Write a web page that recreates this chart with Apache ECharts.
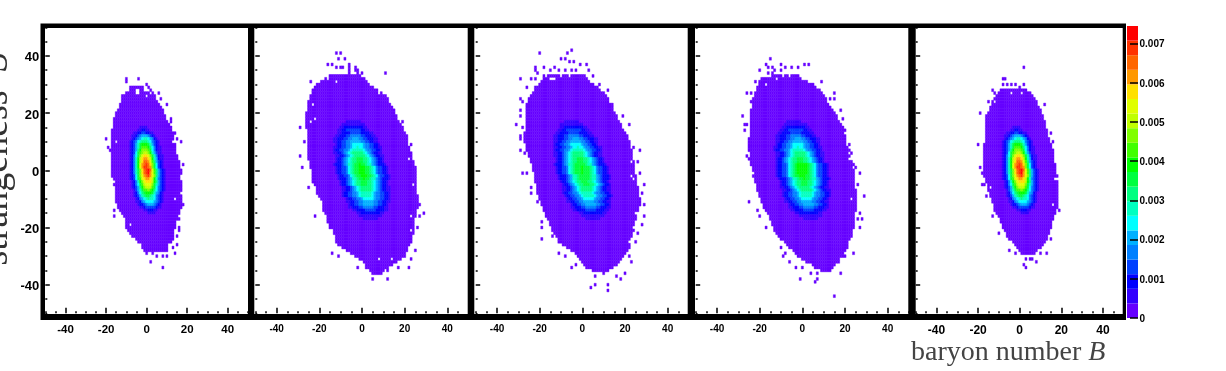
<!DOCTYPE html>
<html><head><meta charset="utf-8"><title>Strangeness vs baryon number</title>
<style>html,body{margin:0;padding:0;background:#fff}#c{width:1226px;height:371px}</style>
<script src="https://cdn.jsdelivr.net/npm/echarts@6/dist/echarts.min.js"></script></head>
<body><div id="c"></div>
<script>
// Levels are colour-band numbers (base 36), band 1 = lowest.
const xTickLabels = [-40,-20,0,20,40];
const yTickLabels = [-40,-20,0,20,40];
const barTickLabels = [0,0.001,0.002,0.003,0.004,0.005,0.006,0.007];
const barMax = 0.00745;
const bandColors = ['#6600ff','#3300ff','#0000ff','#0040ff','#0080ff','#00b0ff','#00ffff','#00ffc0','#00ff80','#00ff40','#00ff00','#40ff00','#80ff00','#c0ff00','#e0ff00','#ffe000','#ff9900','#ff6600','#ff3300','#ff0000'];

// outer silhouette of each panel: [left, right] per S row, from the top row downward
const p1Top = 29;
const p1Edges = [[-8,-2],[-8,-2],[-10,1],[-12,3],[-12,4],[-12,5],[-13,6],[-13,7],[-14,8],[-15,8],[-15,9],[-16,9],[-16,10],[-16,11],[-16,12],[-17,12],[-17,13],[-17,13],[-17,13],[-17,13],[-17,13],[-17,14],[-17,14],[-17,14],[-17,15],[-17,15],[-17,16],[-17,16],[-17,16],[-17,17],[-17,17],[-17,16],[-16,16],[-15,17],[-15,17],[-15,17],[-15,16],[-15,16],[-15,17],[-15,17],[-15,17],[-14,18],[-14,17],[-13,16],[-12,16],[-11,15],[-10,15],[-10,14],[-10,14],[-10,14],[-9,13],[-8,13],[-7,13],[-5,13],[-4,12],[-2,10],[-1,10],[-1,10]];
const p2Top = 33;
const p2Edges = [[-15,-1],[-17,1],[-19,2],[-21,3],[-22,5],[-22,7],[-23,9],[-24,11],[-24,12],[-25,12],[-25,13],[-25,14],[-25,15],[-26,15],[-26,16],[-26,16],[-26,17],[-26,18],[-26,19],[-25,19],[-25,20],[-25,21],[-25,21],[-25,21],[-25,21],[-25,22],[-25,22],[-25,23],[-25,23],[-25,23],[-24,24],[-24,24],[-24,25],[-23,25],[-23,25],[-23,25],[-23,25],[-23,25],[-22,25],[-21,25],[-21,25],[-21,25],[-20,26],[-19,26],[-18,26],[-18,27],[-18,26],[-18,25],[-17,25],[-16,25],[-16,24],[-16,24],[-15,24],[-14,24],[-13,24],[-13,24],[-12,23],[-12,23],[-12,23],[-11,22],[-9,21],[-7,21],[-5,20],[-3,20],[-1,18],[1,16],[2,14],[2,12],[4,10],[5,8]];
const p3Top = 33;
const p3Edges = [[-18,1],[-18,2],[-19,3],[-20,5],[-22,7],[-22,8],[-23,9],[-24,11],[-24,12],[-25,12],[-26,13],[-26,14],[-26,14],[-26,15],[-26,16],[-26,16],[-26,17],[-26,18],[-26,18],[-26,19],[-27,20],[-27,21],[-27,21],[-27,22],[-26,22],[-26,22],[-26,23],[-25,23],[-25,23],[-24,23],[-24,24],[-23,24],[-23,24],[-23,24],[-22,24],[-22,25],[-22,25],[-22,25],[-21,25],[-21,26],[-21,26],[-21,26],[-20,26],[-20,27],[-19,27],[-19,27],[-18,26],[-18,26],[-17,25],[-17,25],[-16,25],[-15,24],[-15,24],[-14,24],[-14,24],[-13,23],[-12,23],[-11,22],[-11,22],[-9,22],[-7,22],[-5,21],[-3,20],[-2,19],[-1,18],[0,17],[1,16],[2,14],[5,12]];
const p4Top = 33;
const p4Edges = [[-14,-2],[-19,-1],[-20,2],[-20,5],[-21,6],[-21,8],[-22,9],[-22,10],[-23,11],[-23,11],[-23,12],[-23,13],[-24,14],[-24,15],[-24,16],[-24,16],[-24,17],[-24,18],[-24,19],[-24,19],[-24,19],[-24,20],[-25,20],[-25,20],[-25,20],[-25,21],[-25,21],[-24,21],[-24,22],[-24,22],[-24,23],[-24,23],[-23,23],[-23,24],[-23,24],[-23,24],[-22,24],[-22,24],[-21,24],[-21,24],[-21,25],[-20,25],[-20,25],[-19,25],[-19,25],[-18,25],[-18,25],[-17,25],[-16,24],[-15,24],[-15,24],[-14,24],[-14,24],[-13,24],[-13,23],[-12,23],[-11,23],[-10,22],[-8,22],[-7,21],[-6,21],[-4,20],[-3,20],[-2,20],[0,17],[2,17],[5,15],[6,14],[9,13]];
const p5Top = 28;
const p5Edges = [[-9,3],[-10,5],[-11,6],[-12,7],[-13,8],[-13,8],[-14,9],[-14,10],[-15,10],[-16,11],[-16,11],[-16,12],[-16,12],[-16,12],[-16,13],[-16,13],[-16,13],[-16,14],[-16,14],[-17,15],[-17,15],[-17,16],[-17,16],[-17,16],[-17,16],[-17,16],[-17,17],[-17,17],[-17,17],[-17,17],[-17,17],[-16,17],[-16,18],[-15,18],[-15,18],[-15,18],[-14,18],[-14,18],[-13,18],[-13,18],[-12,18],[-12,18],[-11,17],[-11,17],[-10,16],[-9,16],[-9,15],[-8,15],[-8,15],[-7,14],[-6,14],[-5,13],[-5,13],[-3,12],[-2,11],[-1,10],[0,8],[1,7]];

// isolated filled bins [B,S] and empty bins inside the silhouette
const p1Dots = [[-10,32],[-4,32],[-10,31],[0,30],[1,29],[2,28],[3,27],[6,27],[4,26],[7,25],[10,23],[12,18],[12,17],[14,13],[15,11],[17,10],[14,9],[18,2],[17,-7],[18,-12],[17,-13],[16,-17],[16,-20],[16,-21],[15,-23],[15,-26],[13,-27],[14,-29],[10,-30],[8,-30],[8,-34],[5,-30],[3,-29],[2,-32],[0,-29],[-2,-27],[-4,-25],[-20,11],[-19,8],[-18,7],[-16,-5],[-16,-14],[-16,-16],[-14,-7]];
const p1Holes = [[-8,-19],[-5,28],[-4,28],[-5,27],[-4,27],[0,26],[-15,10],[13,10],[14,-10]];
const p2Dots = [[-12,41],[-10,41],[-11,39],[-8,39],[-16,37],[-14,37],[-12,36],[-10,36],[-9,36],[-6,37],[-6,36],[-6,35],[-6,34],[-3,36],[-3,35],[-2,35],[-2,34],[0,34],[11,34],[-24,31],[-23,28],[-29,15],[-27,10],[-29,5],[-28,1],[-25,-6],[-22,-16],[-15,-20],[-14,-29],[-11,-30],[17,17],[19,17],[23,9],[29,-15],[27,-16],[26,-20],[25,-28],[23,-31],[22,-34],[17,-34],[12,-35],[12,-38],[5,-38],[9,-36],[-2,-34],[-1,-31]];
const p2Holes = [[-17,33],[-12,31],[-22,18],[-23,23],[-24,17],[-23,-16],[22,4],[16,25],[8,27],[23,-16],[22,-30],[8,-31],[14,-31],[-16,32],[24,-5],[23,-21]];
const p3Dots = [[-5,42],[-7,41],[-20,41],[-10,39],[-8,39],[-6,38],[-4,38],[-1,37],[2,37],[-22,36],[-22,35],[-18,36],[-15,35],[-13,36],[-11,35],[-8,35],[-5,35],[-3,35],[3,35],[5,33],[-21,34],[-24,32],[-29,32],[-22,32],[-26,29],[8,30],[12,28],[10,27],[8,27],[-29,25],[-28,24],[-25,25],[-29,21],[-29,19],[14,23],[14,22],[19,19],[22,16],[-31,16],[-28,15],[-29,12],[-29,11],[-29,7],[-27,6],[24,8],[27,7],[26,3],[23,1],[-28,-1],[-26,-1],[27,-1],[29,-5],[-24,-6],[-24,-8],[28,-8],[29,-12],[-21,-11],[-19,-18],[-19,-20],[29,-16],[28,-19],[-19,-24],[-14,-23],[-12,-20],[26,-22],[25,-25],[-11,-29],[-8,-30],[22,-30],[23,-32],[-5,-34],[-3,-33],[20,-36],[18,-38],[16,-37],[10,-36],[6,-40],[4,-41],[12,-40],[12,-42],[6,-37]];
const p3Holes = [[-15,32],[-17,33],[-10,33],[-6,33],[23,3],[23,-2],[24,-3],[22,-25],[25,-15],[24,-20],[-4,-30],[-8,-28],[-14,32],[-13,32],[-24,1]];
const p4Dots = [[-15,39],[-17,37],[-16,36],[-20,35],[-14,36],[-13,35],[-10,37],[-10,35],[-8,36],[-5,36],[-2,36],[1,37],[3,37],[-16,34],[-14,34],[-22,31],[-21,28],[-26,27],[-24,27],[-24,24],[9,31],[15,27],[15,25],[13,25],[18,21],[16,19],[19,18],[16,15],[19,15],[20,14],[-28,19],[-27,16],[-26,16],[-27,14],[-26,5],[-25,4],[22,9],[23,6],[22,7],[24,2],[27,-1],[25,1],[26,-5],[29,-9],[-25,-11],[27,-15],[28,-17],[26,-17],[27,-20],[-21,-14],[-20,-16],[-17,-20],[-15,-17],[-12,-20],[-11,-22],[-10,-27],[-8,-29],[-9,-30],[-6,-32],[24,-29],[18,-36],[6,-39],[7,-38],[-1,-38],[15,-44],[-3,-34],[0,-34],[4,-36],[7,-36]];
const p4Holes = [[-17,30],[2,32],[22,4],[22,-25],[20,-29],[-12,32],[23,-10],[-9,33],[-6,33],[-23,-1]];
const p5Dots = [[2,36],[-8,32],[-7,32],[-8,30],[-6,30],[-4,30],[-2,30],[2,30],[0,29],[3,28],[-13,28],[-12,27],[-8,28],[-15,24],[6,26],[12,23],[-19,20],[11,19],[15,13],[16,10],[-20,9],[-19,1],[-18,-1],[-17,-5],[-18,-5],[18,-2],[18,-4],[18,-8],[-16,-9],[19,-14],[-13,-16],[-12,-14],[-10,-22],[-6,-23],[15,-20],[15,-24],[13,-29],[10,-29],[-5,-28],[-2,-29],[3,-31],[6,-31],[8,-32],[2,-33],[3,-34],[5,-31]];
const p5Holes = [[-4,27],[1,27],[-12,24],[17,-3],[-14,-6],[16,-12],[17,4]];

// inner bands for the sharply peaked panels: [S, first B, band per bin]
const coreNarrow = [[15,-3,"2222"],[14,-4,"223322"],[13,-6,"2233443322"],[12,-7,"223456665432"],[11,-7,"2345678876532"],[10,-8,"234578999875432"],[9,-8,"23468abbba86432"],[8,-8,"23468acccb975322"],[7,-8,"23469bdddca75322"],[6,-8,"2347acdeedb86422"],[5,-8,"2357adfggfda85322"],[4,-8,"2358beghhgeb86322"],[3,-8,"2358begiihfc96432"],[2,-8,"2358bfhijigda7432"],[1,-8,"2358bfhjjihda7432"],[0,-8,"2358adgijkifc96432"],[-1,-8,"2358adgijkhfc96432"],[-2,-8,"2347adfhijhfd96432"],[-3,-8,"2347acfghhgeb85432"],[-4,-7,"2358bdfgggeb96432"],[-5,-7,"2357acefffda86432"],[-6,-7,"23469bdeeeca75432"],[-7,-6,"2468accdcb975432"],[-8,-6,"23579abbba86532"],[-9,-6,"234689aa9875432"],[-10,-5,"23567898875432"],[-11,-5,"22356777765432"],[-12,-4,"233456665432"],[-13,-3,"22344444322"],[-14,-1,"2233322"],[-15,1,"2222"]];

// band profiles across B for the broad panels
const bandA = "233445789aabbbaa987544332", bandB = "2333456889aabaa9886543332", bandC = "2334567899aaa9987654332", bandD = "22334567899999876543322", bandF = "233445567777765544332", bandG = "2334455666665544332", bandI = "223344444443322", bandJ = "2233333333322", bandK = "22222222222", bandL = "2222222", bandM = "22333344444333322", bandN = "2233344555554433322", bandO = "223334455666554433322", bandP = "223344556666655443322", bandQ = "22334455677877655443322", bandR = "23344556788888765544332", bandA3 = "233445789aaabaaa987544332", bandB3 = "2333456889aaaaa9886543332", bandA4 = "233445789abbbbba987544332";
const coreP2 = [[17,-7,bandL],[16,-9,bandK],[15,-10,bandJ],[14,-11,bandI],[13,-11,bandM],[12,-12,bandN],[11,-13,bandO],[10,-13,bandP],[9,-12,bandF],[8,-13,bandQ],[7,-13,bandR],[6,-13,bandD],[5,-12,bandD],[4,-12,bandC],[3,-12,bandC],[2,-13,bandB],[1,-12,bandA],[0,-12,bandA],[-1,-12,bandA],[-2,-11,bandA],[-3,-11,bandB],[-4,-10,bandC],[-5,-10,bandC],[-6,-9,bandD],[-7,-9,bandD],[-8,-9,bandR],[-9,-9,bandR],[-10,-7,bandF],[-11,-7,bandP],[-12,-6,bandG],[-13,-6,bandN],[-14,-4,bandM],[-15,-2,bandJ],[-16,-1,bandK],[-17,1,bandL]];
const coreP3 = [[17,-8,bandL],[16,-10,bandK],[15,-10,bandJ],[14,-11,bandI],[13,-12,bandM],[12,-13,bandN],[11,-13,bandO],[10,-13,bandP],[9,-13,bandF],[8,-13,bandQ],[7,-13,bandR],[6,-13,bandD],[5,-13,bandD],[4,-12,bandC],[3,-12,bandC],[2,-13,bandB3],[1,-12,bandA3],[0,-12,bandA3],[-1,-12,bandA3],[-2,-11,bandB3],[-3,-11,bandB3],[-4,-10,bandC],[-5,-9,bandC],[-6,-9,bandD],[-7,-9,bandD],[-8,-9,bandR],[-9,-8,bandR],[-10,-7,bandF],[-11,-7,bandP],[-12,-5,bandG],[-13,-5,bandN],[-14,-4,bandM],[-15,-1,bandJ],[-16,0,bandK],[-17,2,bandL]];
const coreP4 = [[17,-7,bandL],[16,-8,bandK],[15,-9,bandJ],[14,-10,bandI],[13,-11,bandM],[12,-12,bandN],[11,-12,bandO],[10,-12,bandP],[9,-12,bandF],[8,-13,bandQ],[7,-13,bandR],[6,-12,bandD],[5,-12,bandD],[4,-12,bandC],[3,-12,bandC],[2,-12,bandA4],[1,-12,bandA4],[0,-12,bandA4],[-1,-12,bandA4],[-2,-12,bandA],[-3,-11,bandB],[-4,-10,bandC],[-5,-10,bandC],[-6,-10,bandD],[-7,-9,bandD],[-8,-9,bandR],[-9,-9,bandR],[-10,-8,bandF],[-11,-8,bandP],[-12,-6,bandG],[-13,-6,bandN],[-14,-5,bandM],[-15,-3,bandJ],[-16,-1,bandK],[-17,1,bandL]];
const coreP5 = coreNarrow;

const panelRects = [
  {left:45.3,width:202.7,wl:45,wr:248,ticks:[13,11.5]},
  {left:255.3,width:213.4,wl:254.3,wr:467.7,ticks:[13,10]},
  {left:475.7,width:213.3,wl:474.3,wr:687.7,ticks:[13,10]},
  {left:695.7,width:213.3,wl:695,wr:908.3,ticks:[13,10]},
  {left:915.7,width:208,wl:915.7,wr:1122.7,ticks:[13,12]}
];
const panels = [
  [p1Top,p1Edges,p1Dots,p1Holes,coreNarrow],
  [p2Top,p2Edges,p2Dots,p2Holes,coreP2],
  [p3Top,p3Edges,p3Dots,p3Holes,coreP3],
  [p4Top,p4Edges,p4Dots,p4Holes,coreP4],
  [p5Top,p5Edges,p5Dots,p5Holes,coreP5]
];
const step = barMax / bandColors.length;
function cells(top, edges, dots, holes, core){
  const m = new Map();
  const k = (b,s)=>b+','+s;
  edges.forEach((e,i)=>{ for(let b=e[0];b<=e[1];b++) m.set(k(b,top-i),[b,top-i,1]); });
  dots.forEach(d=>m.set(k(d[0],d[1]),[d[0],d[1],1]));
  holes.forEach(d=>m.delete(k(d[0],d[1])));
  core.forEach(r=>{ [...r[2]].forEach((ch,i)=>{ const b=r[1]+i; m.set(k(b,r[0]),[b,r[0],parseInt(ch,36)]); }); });
  return [...m.values()].map(c=>[c[0],c[1],(c[2]-0.5)*step]);
}
function renderCell(params, api){
  const b=api.value(0), s=api.value(1), v=api.value(2);
  const a=api.coord([b-0.5,s+0.5]), z=api.coord([b+0.5,s-0.5]);
  const col=bandColors[Math.min(bandColors.length-1,Math.floor(v/step))];
  return {type:'rect',shape:{x:a[0],y:a[1],width:z[0]-a[0],height:z[1]-a[1]},style:{fill:col,stroke:col,lineWidth:0.4}};
}
const grids=[],xAxes=[],yAxes=[],series=[];
const tickLine={color:'#000',width:1.5};
const noLine={show:false,onZero:false};
panelRects.forEach((p,i)=>{
  grids.push({left:p.left,width:p.width,top:27.3,height:286});
  const gx=i*2, gy=i*2;
  xAxes.push({gridIndex:i,type:'value',position:'bottom',min:-50,max:50,interval:5,z:3,splitLine:{show:false},axisLine:noLine,
    axisTick:{inside:true,length:2,lineStyle:tickLine},
    axisLabel:{customValues:xTickLabels,margin:11,fontFamily:'Liberation Sans',fontWeight:'bold',fontSize:p.ticks[1],color:'#000'}});
  xAxes.push({gridIndex:i,type:'value',position:'bottom',min:-50,max:50,interval:5,z:3,splitLine:{show:false},axisLine:noLine,
    axisTick:{inside:true,length:5.5,customValues:xTickLabels,lineStyle:tickLine},axisLabel:{show:false}});
  yAxes.push({gridIndex:i,type:'value',position:'left',min:-50,max:50,interval:5,z:3,splitLine:{show:false},axisLine:noLine,
    axisTick:{inside:true,length:2,lineStyle:tickLine},
    axisLabel:i===0?{customValues:yTickLabels,margin:6,verticalAlign:'top',lineHeight:4,fontFamily:'Liberation Sans',fontWeight:'bold',fontSize:p.ticks[0],color:'#000'}:{show:false}});
  yAxes.push({gridIndex:i,type:'value',position:'left',min:-50,max:50,interval:5,z:3,splitLine:{show:false},axisLine:noLine,
    axisTick:{inside:true,length:4.5,customValues:yTickLabels,lineStyle:tickLine},axisLabel:{show:false}});
  series.push({type:'custom',coordinateSystem:'cartesian2d',xAxisIndex:gx,yAxisIndex:gy,data:cells(...panels[i]),renderItem:renderCell,
    encode:{x:0,y:1},progressive:0,animation:false,silent:true,z:2});
});
// colour bar
const barBands = bandColors.map((c,i)=>[i,i*step,(i+1)*step]);
grids.push({left:1127,width:11,top:26,height:292});
xAxes.push({gridIndex:5,type:'value',min:0,max:1,show:false});
yAxes.push({gridIndex:5,type:'value',position:'right',min:0,max:barMax,z:3,splitLine:{show:false},axisLine:noLine,
  axisTick:{inside:true,length:8,customValues:barTickLabels,lineStyle:{color:'#000',width:1.5}},
  axisLabel:{customValues:barTickLabels,margin:1.5,verticalAlign:'top',lineHeight:2,fontFamily:'Liberation Sans',fontWeight:'bold',fontSize:10,color:'#000',
    formatter:v=>(+v===0?'0':(+v).toFixed(3))}});
series.push({type:'custom',coordinateSystem:'cartesian2d',xAxisIndex:10,yAxisIndex:10,data:barBands,silent:true,animation:false,z:2,
  encode:{y:[1,2]},
  renderItem:(params,api)=>{
    const a=api.coord([0,api.value(2)]), z=api.coord([1,api.value(1)]);
    return {type:'rect',shape:{x:a[0],y:a[1],width:z[0]-a[0],height:z[1]-a[1]},style:{fill:bandColors[api.value(0)]}};
  }});

const frame=[{type:'rect',z:0,shape:{x:40.5,y:23.5,width:1085.5,height:296.5},style:{fill:'#000'}}];
panelRects.forEach(p=>frame.push({type:'rect',z:1,shape:{x:p.wl,y:28,width:p.wr-p.wl,height:286},style:{fill:'#fff'}}));
frame.push({type:'text',z:5,x:16.5,y:159,rotation:Math.PI/2,style:{text:'{a|strangeness  }{b|S}',align:'center',verticalAlign:'bottom',fill:'#333',
  rich:{a:{fontFamily:'Liberation Serif',fontSize:38,fill:'#333'},b:{fontFamily:'Liberation Serif',fontStyle:'italic',fontSize:38,fill:'#333'}}}});
frame.push({type:'text',z:5,x:911,y:353,style:{text:'{a|baryon number }{b|B}',align:'left',verticalAlign:'middle',fill:'#444',
  rich:{a:{fontFamily:'Liberation Serif',fontSize:28,fill:'#444'},b:{fontFamily:'Liberation Serif',fontStyle:'italic',fontSize:28,fill:'#444'}}}});

const chart=echarts.init(document.getElementById('c'),null,{renderer:'canvas'});
chart.setOption({animation:false,backgroundColor:'#fff',grid:grids,xAxis:xAxes,yAxis:yAxes,series,graphic:{elements:frame}});
</script></body></html>
